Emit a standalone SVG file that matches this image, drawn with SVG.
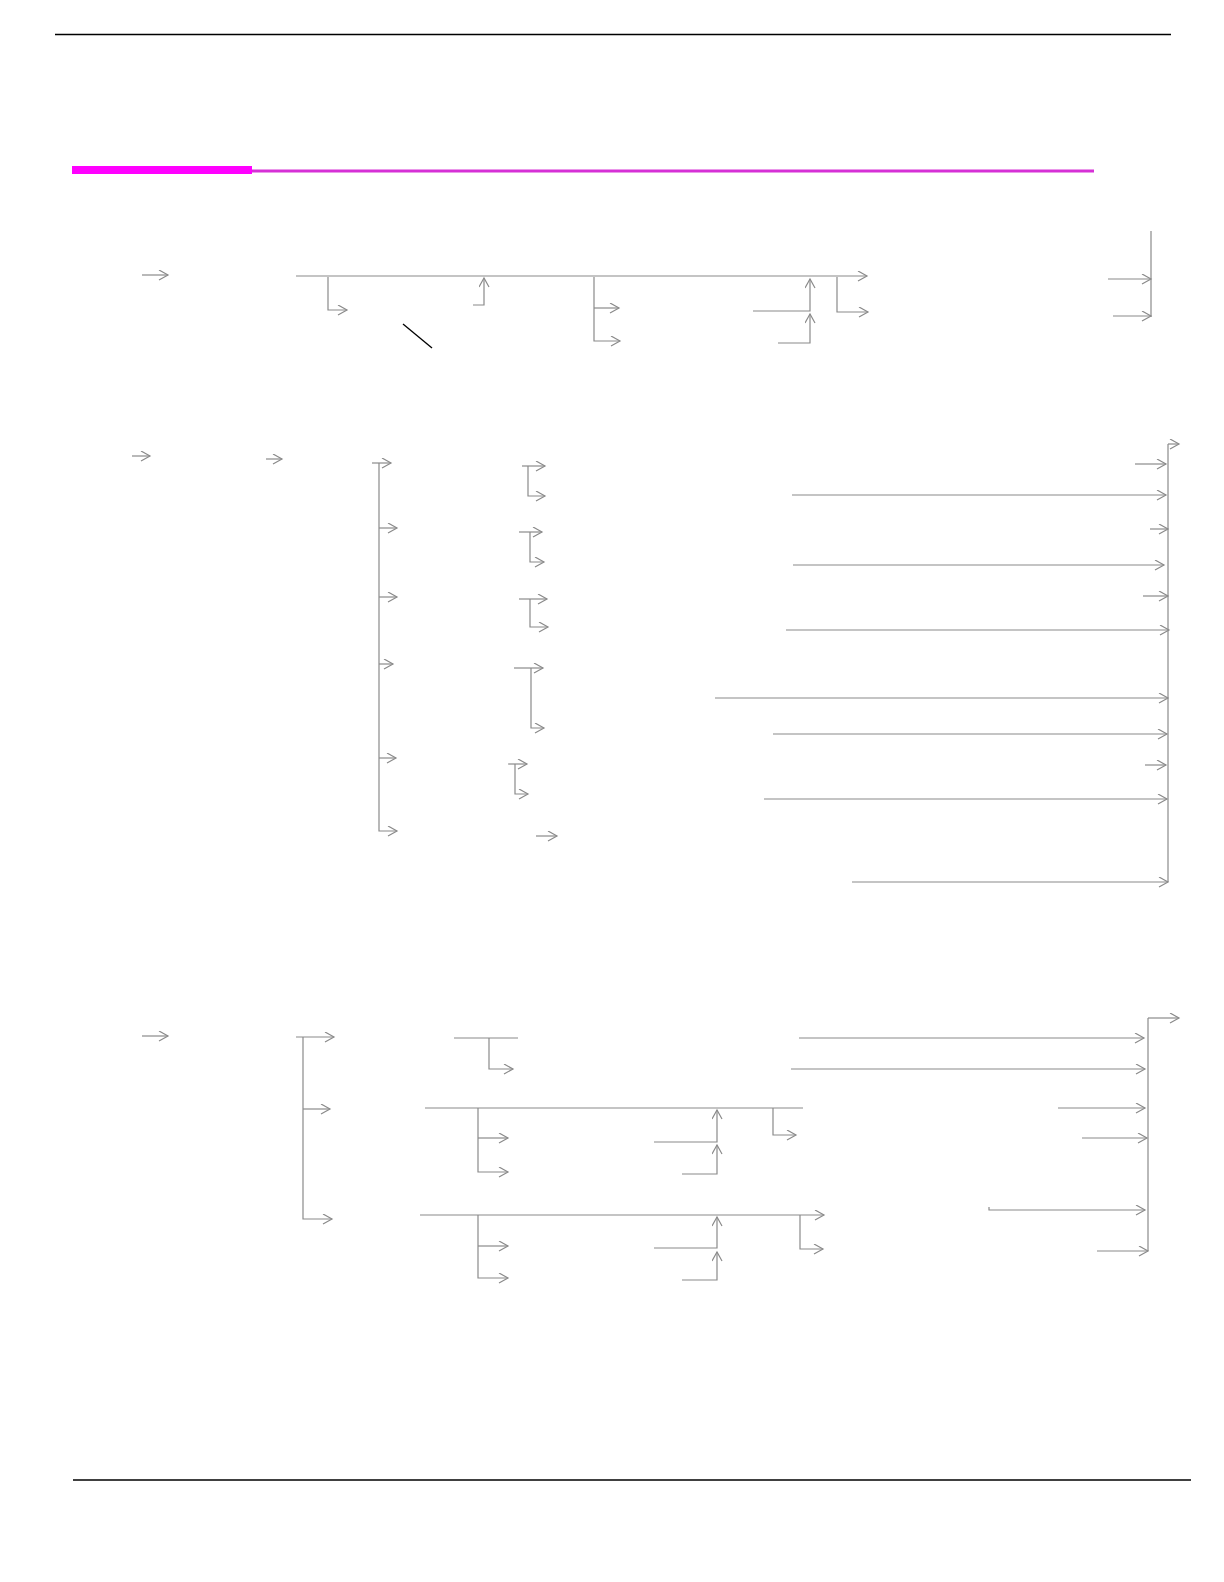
<svg xmlns="http://www.w3.org/2000/svg" width="1224" height="1582" viewBox="0 0 1224 1582">
<style>
.c{fill:none;stroke:#8a8a8a;stroke-width:1.2}
.a{marker-end:url(#ah)}
.rule{stroke:#000;stroke-width:1.5}
</style>
<defs>
<marker id="ah" markerUnits="userSpaceOnUse" markerWidth="12" markerHeight="12" refX="10" refY="5.5" orient="auto">
<path d="M1,0.5 L10,5.5 L1,10.5" fill="none" stroke="#8a8a8a" stroke-width="1.2"/>
</marker>
</defs>
<rect width="1224" height="1582" fill="#fff"/>
<g id="rules">
<line class="rule" x1="55" y1="34.5" x2="1171" y2="34.5"/>
<line class="rule" x1="73" y1="1480" x2="1191" y2="1480"/>
<rect x="72" y="166" width="180" height="8" fill="#ff00ff"/>
<line x1="252" y1="171" x2="1094" y2="171" stroke="#d630d6" stroke-width="3"/>
</g>
<g id="slash">
<line x1="403" y1="324" x2="432" y2="348" stroke="#000" stroke-width="1.3"/>
</g>
<g id="connectors">
<!-- section 1 -->
<path class="c a" d="M142,275 H168"/>
<path class="c a" d="M296,276 H867"/>
<path class="c a" d="M328,277 V310 H347"/>
<path class="c a" d="M473,305 H484 V278"/>
<path class="c a" d="M594,277 V341 H620"/>
<path class="c a" d="M594,308 H619"/>
<path class="c a" d="M753,311 H810 V279"/>
<path class="c a" d="M778,343 H810 V314"/>
<path class="c a" d="M837,277 V312 H868"/>
<path class="c" d="M1151,231 V317"/>
<path class="c a" d="M1108,279 H1151"/>
<path class="c a" d="M1113,316 H1151"/>
<!-- section 2 -->
<path class="c a" d="M132,456 H150"/>
<path class="c a" d="M266,459 H282"/>
<path class="c a" d="M372,463 H391"/>
<path class="c a" d="M379,463 V831 H397"/>
<path class="c a" d="M379,528 H397"/>
<path class="c a" d="M379,597 H397"/>
<path class="c a" d="M379,664 H393"/>
<path class="c a" d="M379,758 H396"/>
<path class="c a" d="M522,466 H545"/>
<path class="c a" d="M528,466 V496 H545"/>
<path class="c a" d="M519,532 H542"/>
<path class="c a" d="M530,532 V562 H544"/>
<path class="c a" d="M519,599 H547"/>
<path class="c a" d="M530,599 V627 H548"/>
<path class="c a" d="M514,668 H543"/>
<path class="c a" d="M531,668 V728 H544"/>
<path class="c a" d="M508,764 H527"/>
<path class="c a" d="M515,764 V794 H528"/>
<path class="c a" d="M536,836 H557"/>
<path class="c" d="M1168,444 V882"/>
<path class="c a" d="M1168,444 H1179"/>
<path class="c a" d="M1135,464 H1166"/>
<path class="c a" d="M792,495 H1166"/>
<path class="c a" d="M1150,529 H1168"/>
<path class="c a" d="M793,565 H1164"/>
<path class="c a" d="M1143,596 H1168"/>
<path class="c a" d="M786,630 H1169"/>
<path class="c a" d="M715,698 H1168"/>
<path class="c a" d="M773,734 H1167"/>
<path class="c a" d="M1145,765 H1166"/>
<path class="c a" d="M764,799 H1167"/>
<path class="c a" d="M852,882 H1168"/>
<!-- section 3 -->
<path class="c a" d="M142,1036 H168"/>
<path class="c a" d="M296,1037 H334"/>
<path class="c a" d="M303,1037 V1219 H332"/>
<path class="c a" d="M303,1109 H330"/>
<path class="c" d="M454,1038 H518"/>
<path class="c a" d="M489,1038 V1069 H513"/>
<path class="c" d="M425,1108 H803"/>
<path class="c a" d="M478,1108 V1172 H508"/>
<path class="c a" d="M478,1138 H508"/>
<path class="c a" d="M773,1108 V1135 H796"/>
<path class="c a" d="M654,1142 H717 V1110"/>
<path class="c a" d="M682,1174 H717 V1145"/>
<path class="c a" d="M420,1215 H824"/>
<path class="c a" d="M478,1215 V1278 H508"/>
<path class="c a" d="M478,1246 H508"/>
<path class="c a" d="M800,1215 V1249 H823"/>
<path class="c a" d="M654,1248 H717 V1217"/>
<path class="c a" d="M682,1280 H717 V1252"/>
<path class="c a" d="M799,1038 H1144"/>
<path class="c a" d="M791,1069 H1145"/>
<path class="c" d="M1148,1018 V1251"/>
<path class="c a" d="M1148,1018 H1179"/>
<path class="c a" d="M1058,1108 H1145"/>
<path class="c a" d="M1082,1138 H1147"/>
<path class="c a" d="M989,1207 V1210 H1145"/>
<path class="c a" d="M1097,1251 H1148"/>
</g>
</svg>
